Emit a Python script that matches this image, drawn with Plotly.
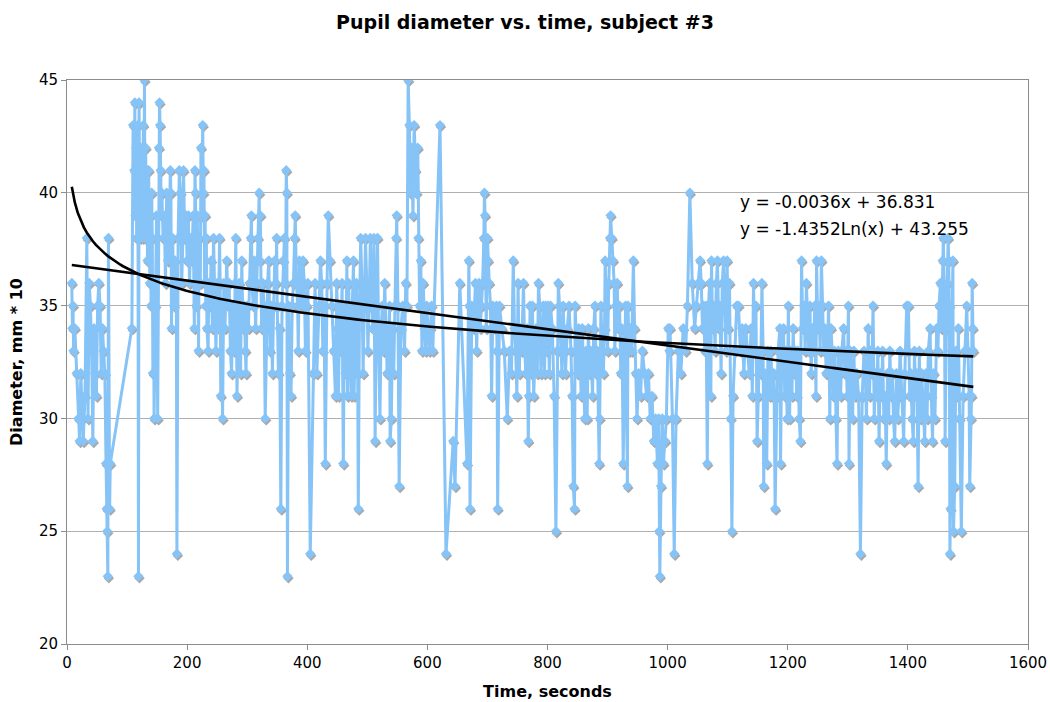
import numpy as np
import plotly.graph_objects as go

# --- data: time (s) and pupil diameter (mm*10) ---
t_a = [8, 9, 10, 11, 13, 16, 19, 21, 23, 25, 27, 30, 33, 35, 37, 39, 41, 43, 45, 47,
       49, 51, 53, 55, 57, 59, 61, 63, 65, 66, 67, 68, 69, 71, 72]
v_a = [36, 34, 35, 33, 34, 32, 30, 29, 32, 30, 29, 31, 38, 30, 36, 35, 33, 29, 34, 32,
       31, 35, 36, 35, 32, 34, 33, 32, 28, 26, 25, 23, 38, 26, 28]

t_b = [108, 110, 112, 113, 114, 115, 116, 117, 118, 119, 120, 121, 122, 123, 124, 125, 126, 127,
       128, 129, 130, 131, 132, 133, 134, 135, 136, 137, 138, 139, 140, 141, 142, 143, 144, 145,
       147, 149, 151, 153, 154, 155, 156, 157, 158, 160, 162, 164, 166, 168, 170, 172, 173, 174,
       176, 178, 180, 182, 183, 185, 187, 189, 191, 193]
v_b = [34, 43, 41, 44, 39, 42, 38, 40, 43, 23, 44, 40, 38, 42, 39, 41, 38, 43,
       40, 45, 38, 42, 39, 41, 37, 40, 41, 38, 36, 39, 35, 40, 38, 32, 36, 30,
       35, 39, 30, 42, 44, 43, 41, 39, 40, 38, 39, 36, 40, 37, 38, 41, 40, 34,
       38, 35, 37, 36, 24, 38, 41, 40, 36, 38]

t_c = [194, 196, 198, 200, 202, 204, 206, 208, 210, 212, 213, 214, 215, 217, 219, 220, 222, 223,
       224, 226, 227, 228, 229, 230, 231, 232, 233, 235, 236, 238, 240, 242, 244, 246, 248, 250,
       252, 254, 255, 256, 257, 259, 261, 263, 266, 268, 270, 272, 274, 276, 278, 280, 281, 282,
       283, 285, 287, 289, 291, 293, 295, 297, 298, 300, 302, 304, 306, 307, 308, 310, 312, 314,
       316, 318, 320, 321, 322, 323, 324, 326, 328, 330, 332, 334, 336, 338, 340, 342, 344, 346,
       348, 349, 350, 352, 354, 356, 358, 360, 362, 364, 365, 366, 367, 369, 371, 373, 375, 377,
       379, 380, 382, 384, 385, 387, 389, 391, 393, 395, 397, 399, 401, 405]
v_c = [41, 38, 39, 37, 39, 36, 38, 37, 39, 34, 41, 40, 35, 39, 33, 38, 36, 42,
       39, 43, 40, 41, 36, 39, 35, 38, 34, 33, 36, 35, 37, 34, 38, 35, 33, 36,
       34, 38, 36, 31, 35, 30, 36, 34, 37, 35, 36, 33, 32, 35, 33, 36, 38, 35,
       31, 34, 36, 32, 37, 34, 35, 33, 32, 35, 34, 36, 38, 39, 36, 35, 37, 34,
       36, 38, 40, 37, 39, 36, 34, 36, 35, 30, 34, 36, 37, 33, 35, 32, 35, 37,
       36, 38, 35, 32, 34, 26, 35, 37, 38, 36, 41, 40, 23, 35, 32, 31, 35, 36,
       38, 39, 36, 35, 33, 37, 36, 35, 37, 36, 33, 35, 36, 24]

t_d = [410, 413, 416, 419, 422, 424, 426, 428, 430, 433, 435, 438, 441, 444, 447, 449, 451, 452,
       454, 456, 458, 460, 462, 464, 466, 467, 469, 471, 473, 475, 477, 478, 480, 482, 484, 485,
       487, 489, 491, 493, 495, 497, 499, 501, 503, 505, 507, 509, 511, 513, 515, 517, 519, 521,
       523, 525, 527, 529, 531, 533, 535, 537, 538, 540, 542, 544, 546, 548, 549, 551, 553, 556,
       559, 562, 564, 566, 568, 570, 572, 574, 576, 578, 580, 582, 584, 585, 587, 589, 591, 593,
       595, 597, 599, 601, 603]
v_d = [32, 36, 32, 35, 37, 36, 33, 35, 28, 36, 39, 37, 35, 33, 31, 36, 34, 31,
       35, 33, 36, 28, 35, 32, 37, 31, 36, 33, 31, 35, 37, 31, 34, 36, 32, 26,
       35, 38, 36, 32, 35, 38, 36, 33, 35, 38, 36, 34, 38, 29, 35, 38, 33, 30,
       34, 35, 33, 36, 34, 32, 33, 35, 29, 30, 34, 32, 35, 38, 39, 35, 27, 34,
       35, 33, 36, 35, 45, 43, 40, 42, 39, 43, 41, 40, 42, 38, 35, 37, 33, 36,
       34, 33, 35, 34, 33]

t_e = [605, 607, 609, 621, 631, 643, 646, 654, 666, 669, 670, 671, 674, 677, 680, 682, 684, 686,
       688, 690, 692, 694, 695, 696, 697, 698, 700, 701, 703, 705, 707, 709, 712, 715, 716, 717,
       720, 724, 728, 733, 737, 740, 743, 745, 747, 749, 751, 753, 755, 757, 760, 762, 764, 766,
       768, 769, 771, 773, 775, 777, 779, 781, 783, 785, 787, 789, 791, 793, 795]
v_e = [34, 35, 33, 43, 24, 29, 27, 36, 28, 37, 35, 26, 35, 34, 36, 33, 35, 36,
       34, 35, 36, 38, 40, 39, 36, 34, 38, 37, 36, 35, 31, 35, 34, 35, 33, 26,
       35, 34, 33, 30, 33, 32, 37, 34, 33, 31, 36, 32, 34, 33, 36, 33, 32, 34,
       29, 31, 35, 32, 35, 31, 33, 34, 32, 36, 35, 32, 33, 35, 32]

t_f = [797, 799, 801, 803, 805, 808, 811, 814, 816, 818, 820, 822, 824, 826, 828, 830, 833, 836,
       839, 841, 843, 845, 846, 848, 850, 852, 854, 856, 858, 860, 862, 864, 866, 868, 870, 872,
       875, 877, 879, 881, 883, 886, 887, 889, 891, 893, 895, 896, 898, 900, 902, 904, 905, 907,
       909, 911, 912, 914, 916, 918, 920, 922, 924, 926, 928, 930, 933, 934, 936, 938, 940, 943,
       945, 947, 949, 952, 955, 958, 962, 965, 968, 971, 974, 977, 980, 983, 985, 986, 987, 989,
       991, 993, 996, 998, 1001, 1003, 1004, 1008, 1011, 1014, 1018]
v_f = [35, 33, 35, 32, 35, 34, 31, 25, 33, 36, 35, 33, 32, 35, 33, 32, 34, 35,
       33, 31, 27, 26, 35, 33, 32, 34, 33, 31, 34, 32, 30, 33, 30, 34, 32, 33,
       31, 34, 35, 32, 33, 28, 30, 35, 33, 32, 34, 37, 35, 33, 36, 38, 39, 38,
       37, 36, 33, 35, 36, 34, 35, 32, 34, 28, 33, 35, 27, 35, 33, 34, 33, 37,
       34, 32, 30, 32, 31, 33, 32, 31, 32, 30, 31, 29, 30, 28, 30, 25, 23, 27,
       30, 28, 29, 30, 34, 33, 34, 30, 24, 30, 33]

t_g = [1022, 1026, 1030, 1033, 1037, 1041, 1045, 1048, 1051, 1054, 1056, 1058, 1060, 1062, 1064,
       1066, 1068, 1070, 1072, 1073, 1075, 1077, 1079, 1081, 1083, 1085, 1087, 1089, 1091, 1093,
       1095, 1097, 1099, 1101, 1103, 1105, 1107, 1109, 1112, 1115, 1118, 1121, 1124, 1127, 1130,
       1133, 1136, 1139, 1141, 1143, 1145, 1147, 1149, 1151, 1153, 1155, 1157, 1159, 1160, 1162,
       1165, 1167, 1170, 1172, 1174, 1177, 1179, 1182, 1184, 1187, 1188, 1190, 1193, 1195, 1197,
       1199, 1201]
v_g = [32, 34, 33, 35, 40, 36, 34, 35, 36, 37, 36, 34, 35, 33, 35,
       28, 35, 36, 31, 37, 34, 35, 33, 36, 37, 34, 35, 32, 36, 37,
       35, 33, 37, 34, 36, 30, 25, 31, 33, 35, 35, 33, 34, 32, 34,
       33, 32, 34, 31, 36, 33, 35, 29, 31, 33, 32, 36, 33, 27, 32,
       28, 33, 31, 33, 31, 32, 26, 31, 33, 34, 28, 33, 34, 31, 33,
       30, 35]

t_h = [1203, 1205, 1207, 1209, 1211, 1213, 1215, 1217, 1219, 1221, 1223, 1225, 1227, 1229, 1231,
       1233, 1235, 1237, 1239, 1241, 1243, 1245, 1247, 1248, 1250, 1252, 1254, 1256, 1258, 1260,
       1262, 1264, 1266, 1268, 1270, 1272, 1274, 1276, 1278, 1280, 1282, 1284, 1286, 1288, 1290,
       1293, 1295, 1297, 1299, 1301, 1302, 1304, 1306, 1308, 1310, 1312, 1315, 1318, 1321, 1324,
       1327, 1329, 1331, 1334, 1336, 1338, 1340, 1342, 1344, 1346, 1348, 1350, 1352, 1354, 1356,
       1358, 1360, 1362, 1364, 1366, 1368, 1370, 1372, 1374, 1376, 1378, 1381, 1383, 1385, 1387,
       1390, 1393, 1395, 1398]
v_h = [30, 33, 31, 34, 32, 33, 31, 33, 30, 29, 37, 34, 35, 33, 36,
       34, 33, 35, 32, 34, 33, 35, 31, 37, 34, 35, 33, 37, 35, 33,
       34, 32, 33, 35, 30, 34, 33, 31, 33, 30, 28, 33, 32, 31, 33,
       34, 32, 33, 31, 35, 28, 33, 32, 30, 33, 31, 32, 31, 24, 31,
       33, 32, 30, 34, 31, 33, 32, 35, 30, 32, 31, 33, 29, 32, 31,
       33, 30, 31, 28, 32, 30, 33, 31, 32, 30, 29, 32, 30, 31, 33,
       31, 29, 32, 35]

t_i = [1400, 1401, 1403, 1405, 1407, 1409, 1411, 1413, 1415, 1417, 1419, 1421, 1423, 1425, 1428,
       1430, 1432, 1434, 1437, 1439, 1441, 1443, 1445, 1448, 1450, 1452, 1454, 1456, 1458, 1459,
       1461, 1462, 1464, 1466, 1467, 1468, 1469, 1470, 1471, 1473, 1475, 1476, 1478, 1480, 1482,
       1484, 1486, 1489, 1492, 1495, 1498, 1500, 1502, 1503, 1505, 1506, 1507, 1508, 1509]
v_i = [33, 35, 31, 32, 30, 29, 33, 31, 32, 27, 33, 30, 32, 31, 29,
       32, 30, 33, 34, 31, 29, 32, 30, 34, 33, 35, 36, 34, 37, 38,
       35, 29, 34, 36, 38, 37, 35, 24, 26, 33, 37, 25, 27, 33, 31,
       34, 30, 25, 31, 33, 35, 33, 31, 27, 30, 31, 36, 34, 33]

time_s = t_a + t_b + t_c + t_d + t_e + t_f + t_g + t_h + t_i
diameter = v_a + v_b + v_c + v_d + v_e + v_f + v_g + v_h + v_i

# trendline coefficients (as printed on the chart)
lin_slope, lin_icpt = -0.0036, 36.831
log_coef, log_icpt = -1.4352, 43.255

x_ticks = [0, 200, 400, 600, 800, 1000, 1200, 1400, 1600]
y_ticks = [20, 25, 30, 35, 40, 45]
x_range = [0, 1600]
y_range = [20, 45]

tx = np.linspace(min(time_s), max(time_s), 300)
lin_y = lin_slope * tx + lin_icpt
log_y = log_coef * np.log(tx) + log_icpt

FONT = "DejaVu Sans, Verdana, sans-serif"
L, R, T, B = 67, 22, 80, 58
W, H = 1050, 702
pw, ph = W - L - R, H - T - B

# drop-shadow offset for markers, in pixels (right, down)
sh_dx = 1.0 * (x_range[1] - x_range[0]) / pw
sh_dy = 2.0 * (y_range[1] - y_range[0]) / ph

fig = go.Figure()
# invisible trace keeps the visible base axes alive
fig.add_trace(go.Scatter(x=time_s, y=diameter, mode="none", showlegend=False,
                         hoverinfo="skip"))
# shadow markers (overlay axes shifted by a couple of pixels)
fig.add_trace(go.Scatter(
    x=time_s, y=diameter, mode="markers", xaxis="x2", yaxis="y2",
    marker=dict(symbol="diamond", size=8, color="#a9a9a9"),
    showlegend=False, hoverinfo="skip"))
fig.add_trace(go.Scatter(
    x=time_s, y=diameter, mode="lines+markers", xaxis="x3", yaxis="y3",
    line=dict(color="#86C3F7", width=3),
    marker=dict(symbol="diamond", size=8, color="#86C3F7"),
    showlegend=False, hoverinfo="x+y"))
fig.add_trace(go.Scatter(x=tx, y=log_y, mode="lines", xaxis="x3", yaxis="y3",
                         line=dict(color="black", width=2.6), showlegend=False))
fig.add_trace(go.Scatter(x=tx, y=lin_y, mode="lines", xaxis="x3", yaxis="y3",
                         line=dict(color="black", width=2.6), showlegend=False))

ann_px = [(738, 202, "y = -0.0036x + 36.831"),
          (738, 229, "y = -1.4352Ln(x) + 43.255")]
for px, py, txt in ann_px:
    fig.add_annotation(x=(px - L) / pw, y=1 - (py - T) / ph, xref="paper", yref="paper",
                       text=txt, showarrow=False, xanchor="left", yanchor="middle",
                       font=dict(family=FONT, size=17, color="black"))

hidden = dict(visible=False, showgrid=False, zeroline=False, fixedrange=True)
fig.update_layout(
    width=W, height=H,
    margin=dict(l=L, r=R, t=T, b=B),
    paper_bgcolor="white", plot_bgcolor="white",
    font=dict(family=FONT, size=15, color="black"),
    title=dict(text="<b>Pupil diameter vs. time, subject #3</b>", x=0.5, xanchor="center",
               y=1 - 22 / H, yanchor="middle",
               font=dict(family=FONT, size=19, color="black")),
    xaxis=dict(range=x_range, tickvals=x_ticks, ticks="outside", ticklen=5, tickcolor="#8c8c8c",
               showgrid=False, zeroline=False, showline=True, linecolor="#8c8c8c", linewidth=1,
               mirror=True, automargin=False,
               title=dict(text="<b>Time, seconds</b>", standoff=14,
                          font=dict(family=FONT, size=16))),
    yaxis=dict(range=y_range, tickvals=y_ticks, ticks="outside", ticklen=5, tickcolor="#8c8c8c",
               showgrid=True, gridcolor="#b0b0b0", gridwidth=1, zeroline=False,
               showline=True, linecolor="#8c8c8c", linewidth=1, mirror=True, automargin=False,
               title=dict(text="<b>Diameter, mm * 10</b>", standoff=12,
                          font=dict(family=FONT, size=16))),
    xaxis2=dict(hidden, overlaying="x", range=[x_range[0] - sh_dx, x_range[1] - sh_dx]),
    yaxis2=dict(hidden, overlaying="y", range=[y_range[0] + sh_dy, y_range[1] + sh_dy]),
    xaxis3=dict(hidden, overlaying="x", range=x_range),
    yaxis3=dict(hidden, overlaying="y", range=y_range),
)

fig.write_html("out.html")
